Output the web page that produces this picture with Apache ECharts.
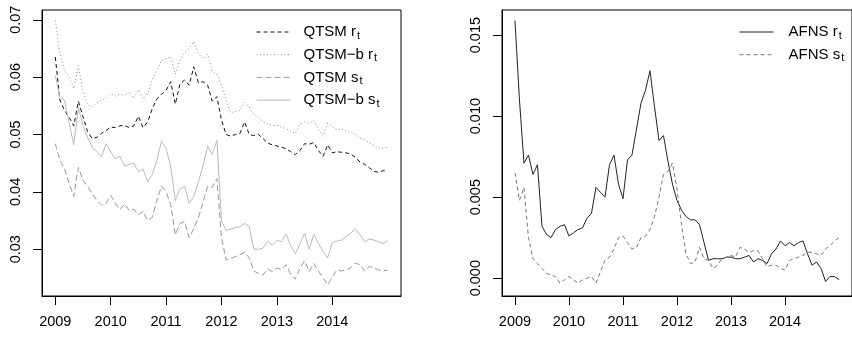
<!DOCTYPE html>
<html>
<head>
<meta charset="utf-8">
<script src="https://cdn.jsdelivr.net/npm/echarts@6/dist/echarts.min.js"></script>
<style>
  html, body { margin: 0; padding: 0; background: #fff; }
  #chart { width: 852px; height: 337px; }
</style>
</head>
<body>
<div id="chart"></div>
<script>
// Monthly observations from January 2009 to January 2015.
const startYear = 2009;

// Left panel: short rate r_t and shadow rate s_t from the two QTSM variants.
const qtsmR = [
  0.0635, 0.0560, 0.0542, 0.0530, 0.0515, 0.0558, 0.0531, 0.0505, 0.0493, 0.0495, 0.0502, 0.0507,
  0.0513, 0.0512, 0.0515, 0.0516, 0.0512, 0.0515, 0.0532, 0.0512, 0.0522, 0.0545, 0.0562, 0.0570,
  0.0577, 0.0592, 0.0553, 0.0588, 0.0595, 0.0586, 0.0618, 0.0590, 0.0592, 0.0586, 0.0558, 0.0566,
  0.0525, 0.0500, 0.0497, 0.0500, 0.0502, 0.0522, 0.0500, 0.0498, 0.0500, 0.0493, 0.0485, 0.0482,
  0.0480, 0.0478, 0.0475, 0.0470, 0.0465, 0.0472, 0.0484, 0.0483, 0.0486, 0.0472, 0.0462, 0.0482,
  0.0468, 0.0470, 0.0469, 0.0468, 0.0466, 0.0460, 0.0452, 0.0448, 0.0442, 0.0436, 0.0434, 0.0437,
  0.0436
];
const qtsmbR = [
  0.0699, 0.0640, 0.0612, 0.0600, 0.0580, 0.0620, 0.0575, 0.0552, 0.0548, 0.0555, 0.0560, 0.0563,
  0.0571, 0.0567, 0.0570, 0.0568, 0.0574, 0.0563, 0.0578, 0.0562, 0.0571, 0.0595, 0.0612, 0.0629,
  0.0632, 0.0636, 0.0605, 0.0629, 0.0643, 0.0650, 0.0662, 0.0641, 0.0632, 0.0640, 0.0610, 0.0605,
  0.0585, 0.0560, 0.0538, 0.0540, 0.0542, 0.0556, 0.0548, 0.0535, 0.0530, 0.0522, 0.0519, 0.0516,
  0.0516, 0.0513, 0.0510, 0.0506, 0.0502, 0.0518, 0.0522, 0.0519, 0.0524, 0.0510, 0.0497, 0.0520,
  0.0514, 0.0508, 0.0510, 0.0506, 0.0504, 0.0500, 0.0494, 0.0491, 0.0486, 0.0481, 0.0476, 0.0476,
  0.0478
];
const qtsmS = [
  0.0484, 0.0455, 0.0440, 0.0415, 0.0392, 0.0443, 0.0420, 0.0410, 0.0397, 0.0385, 0.0377, 0.0380,
  0.0394, 0.0380, 0.0369, 0.0379, 0.0368, 0.0370, 0.0360, 0.0366, 0.0350, 0.0356, 0.0385, 0.0410,
  0.0400, 0.0378, 0.0325, 0.0345, 0.0348, 0.0320, 0.0336, 0.0355, 0.0382, 0.0410, 0.0408, 0.0423,
  0.0320, 0.0281, 0.0284, 0.0287, 0.0290, 0.0295, 0.0285, 0.0262, 0.0258, 0.0255, 0.0266, 0.0261,
  0.0267, 0.0265, 0.0273, 0.0256, 0.0248, 0.0267, 0.0280, 0.0261, 0.0275, 0.0262, 0.0250, 0.0238,
  0.0252, 0.0264, 0.0262, 0.0264, 0.0268, 0.0276, 0.0273, 0.0262, 0.0270, 0.0268, 0.0264, 0.0262,
  0.0264
];
const qtsmbS = [
  0.0603, 0.0565, 0.0560, 0.0520, 0.0482, 0.0548, 0.0515, 0.0495, 0.0478, 0.0470, 0.0461, 0.0484,
  0.0470, 0.0458, 0.0462, 0.0445, 0.0448, 0.0450, 0.0435, 0.0440, 0.0418, 0.0430, 0.0455, 0.0488,
  0.0475, 0.0445, 0.0385, 0.0405, 0.0410, 0.0380, 0.0392, 0.0418, 0.0445, 0.0480, 0.0465, 0.0490,
  0.0350, 0.0333, 0.0335, 0.0338, 0.0339, 0.0345, 0.0340, 0.0300, 0.0300, 0.0302, 0.0314, 0.0307,
  0.0316, 0.0313, 0.0327, 0.0306, 0.0292, 0.0310, 0.0328, 0.0300, 0.0326, 0.0310, 0.0296, 0.0285,
  0.0312, 0.0314, 0.0316, 0.0322, 0.0328, 0.0336, 0.0325, 0.0313, 0.0318, 0.0316, 0.0313, 0.0310,
  0.0315
];

// Right panel: AFNS short rate and shadow rate.
const afnsR = [
  0.0159, 0.0110, 0.0071, 0.0076, 0.0064, 0.0070, 0.0032, 0.0027, 0.0025, 0.0030, 0.0032, 0.0033,
  0.0026, 0.0028, 0.0030, 0.0031, 0.0037, 0.0040, 0.0056, 0.0053, 0.0050, 0.0070, 0.0076, 0.0058,
  0.0049, 0.0073, 0.0076, 0.0092, 0.0108, 0.0116, 0.0128, 0.0106, 0.0085, 0.0088, 0.0072, 0.0058,
  0.0048, 0.0042, 0.0038, 0.0036, 0.0036, 0.0033, 0.0022, 0.0011, 0.0012, 0.0012, 0.0012, 0.0013,
  0.0013, 0.0012, 0.0012, 0.0013, 0.0014, 0.0010, 0.0012, 0.0011, 0.0009, 0.0015, 0.0018, 0.0023,
  0.0020, 0.0022, 0.0020, 0.0022, 0.0023, 0.0015, 0.0008, 0.0010, 0.0006, -0.0002, 0.0001, 0.0001,
  -0.0001
];
const afnsS = [
  0.0065, 0.0048, 0.0056, 0.0025, 0.0012, 0.0009, 0.0006, 0.0003, 0.0002, 0.0001, -0.0003, -0.0001,
  0.0001, -0.0001, -0.0003, -0.0001, 0.0000, 0.0001, -0.0003, 0.0004, 0.0011, 0.0013, 0.0018, 0.0025,
  0.0026, 0.0022, 0.0018, 0.0019, 0.0025, 0.0026, 0.0030, 0.0038, 0.0050, 0.0064, 0.0066, 0.0071,
  0.0055, 0.0033, 0.0015, 0.0009, 0.0010, 0.0019, 0.0012, 0.0011, 0.0006, 0.0008, 0.0012, 0.0013,
  0.0014, 0.0013, 0.0019, 0.0018, 0.0016, 0.0017, 0.0017, 0.0012, 0.0007, 0.0008, 0.0008, 0.0006,
  0.0005, 0.0011, 0.0012, 0.0013, 0.0014, 0.0016, 0.0016, 0.0015, 0.0014, 0.0018, 0.0020, 0.0023,
  0.0025
];

// Axis tick values.
const yearTicks = [2009, 2010, 2011, 2012, 2013, 2014];
const leftTicks = [0.03, 0.04, 0.05, 0.06, 0.07];
const rightTicks = [0.000, 0.005, 0.010, 0.015];

const FONT = 'Liberation Sans, Arial, Helvetica, sans-serif';
const MINUS = '\u2212';

function toPairs(vals) {
  return vals.map((v, i) => [startYear + i / 12, v]);
}

function lineSeries(name, vals, axis, color, dash) {
  return {
    type: 'line',
    name: name,
    xAxisIndex: axis,
    yAxisIndex: axis,
    data: toPairs(vals),
    symbol: 'none',
    showSymbol: false,
    silent: true,
    lineStyle: { color: color, width: 1, type: dash },
    itemStyle: { color: color },
    animation: false
  };
}

const names = {
  qR: 'QTSM r',
  qbR: 'QTSM' + MINUS + 'b r',
  qS: 'QTSM s',
  qbS: 'QTSM' + MINUS + 'b s',
  aR: 'AFNS r',
  aS: 'AFNS s'
};

// Names end with the variable letter; the subscript t is appended in the legend.
function legendText(name) {
  return '{n|' + name + '}{s|t}';
}

const richStyles = {
  n: { fontSize: 15, fontFamily: FONT, color: '#000', lineHeight: 15 },
  s: { fontSize: 11, fontFamily: FONT, color: '#000', lineHeight: 15, padding: [7, 0, 0, 1] }
};

const axisLineStyle = { color: '#000', width: 1 };

function xAxis(gridIndex) {
  return {
    type: 'value',
    gridIndex: gridIndex,
    min: 2008.76,
    max: 2015.24,
    axisLine: { show: true, onZero: false, lineStyle: axisLineStyle },
    splitLine: { show: false },
    axisTick: {
      show: true, inside: false, length: 9, customValues: yearTicks,
      lineStyle: axisLineStyle
    },
    axisLabel: {
      customValues: yearTicks, margin: 18,
      fontSize: 14.5, fontFamily: FONT, color: '#000',
      formatter: v => String(Math.round(v))
    }
  };
}

function yAxis(gridIndex, min, max, ticks, digits) {
  return {
    type: 'value',
    gridIndex: gridIndex,
    min: min,
    max: max,
    axisLine: { show: true, onZero: false, lineStyle: axisLineStyle },
    splitLine: { show: false },
    axisTick: {
      show: true, inside: false, length: 9, customValues: ticks,
      lineStyle: axisLineStyle
    },
    axisLabel: {
      customValues: ticks, margin: 19, rotate: 90,
      fontSize: 14.5, fontFamily: FONT, color: '#000',
      formatter: v => v.toFixed(digits)
    }
  };
}

function legend(items, left, textGap) {
  return {
    data: items,
    orient: 'vertical', left: left, top: 23,
    itemWidth: 34, itemHeight: 15, itemGap: 4.7,
    padding: 0,
    selectedMode: false,
    formatter: legendText,
    itemStyle: { color: 'rgba(0,0,0,0)', borderWidth: 0 },
    lineStyle: { width: 1 },
    textStyle: { fontSize: 15, fontFamily: FONT, color: '#000', padding: [0, 0, 0, textGap], rich: richStyles }
  };
}

const chart = echarts.init(document.getElementById('chart'), null, { renderer: 'canvas' });

chart.setOption({
  animation: false,
  backgroundColor: '#fff',
  grid: [
    { left: 42, top: 10, width: 359, height: 286, show: true, borderColor: '#000', borderWidth: 1, backgroundColor: 'transparent' },
    { left: 502, top: 10, width: 359, height: 286, show: true, borderColor: '#000', borderWidth: 1, backgroundColor: 'transparent' }
  ],
  xAxis: [xAxis(0), xAxis(1)],
  yAxis: [
    yAxis(0, 0.02185, 0.0717, leftTicks, 2),
    yAxis(1, -0.0011, 0.01655, rightTicks, 3)
  ],
  legend: [
    legend([names.qR, names.qbR, names.qS, names.qbS], 256, 8),
    legend([names.aR, names.aS], 739, 10)
  ],
  series: [
    lineSeries(names.qR, qtsmR, 0, '#111', [4, 3]),
    lineSeries(names.qbR, qtsmbR, 0, '#888', [1, 2.5]),
    lineSeries(names.qS, qtsmS, 0, '#999', [6, 3]),
    lineSeries(names.qbS, qtsmbS, 0, '#bbb', 'solid'),
    lineSeries(names.aR, afnsR, 1, '#222', 'solid'),
    lineSeries(names.aS, afnsS, 1, '#777', [4, 3])
  ]
});
</script>
</body>
</html>
